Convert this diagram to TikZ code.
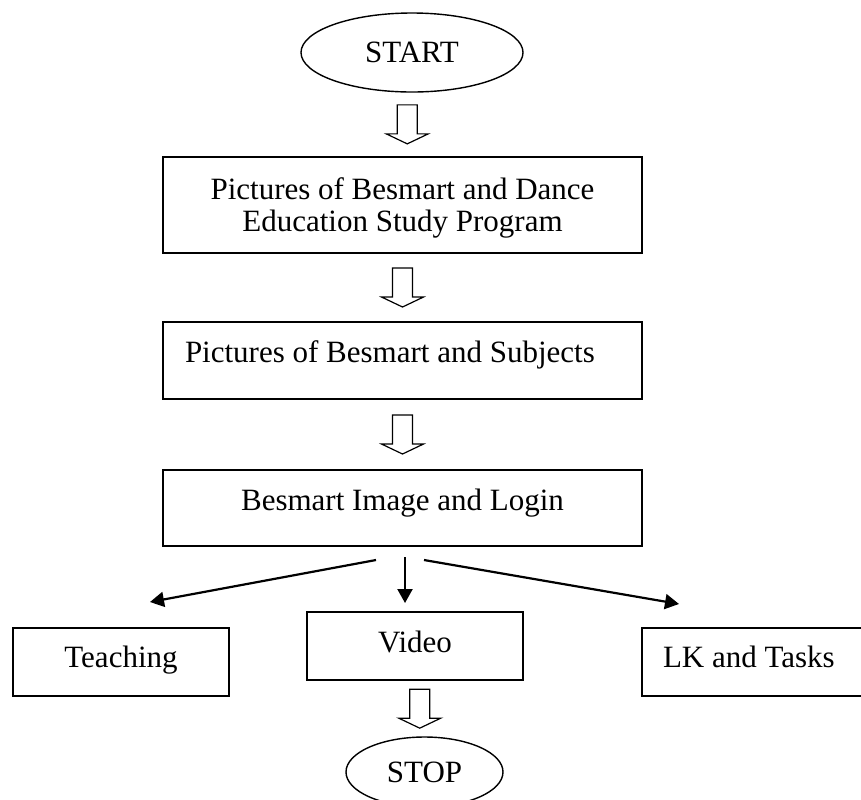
\documentclass[tikz,border=0pt]{standalone}
\usepackage{fontspec}
\setmainfont{Liberation Serif}
\usetikzlibrary{shapes.geometric, arrows.meta, calc}
\tikzset{
	box/.style={draw, line width=1pt, rectangle, inner sep=0pt, text height=13pt, text depth=3pt, align=center},
	oval/.style={draw, line width=0.7pt, ellipse, inner sep=0pt},
	link/.style={-{Triangle[length=7pt, width=7.5pt]}, line width=1.1pt},
	pics/hollow/.style={code={
		\draw[line width=0.6pt] (-10,-19.5) -- (10,-19.5) -- (10,9.5) -- (21,9.5) -- (0,19.5) -- (-21,9.5) -- (-10,9.5) -- cycle;
	}}
}
\begin{document}
\begin{tikzpicture}[x=0.5pt, y=-0.5pt, font=\fontsize{15.5pt}{16pt}\selectfont]
	\useasboundingbox (0,0) rectangle (861,799);
	\clip (0,0) rectangle (861,799);
	\node[oval, minimum width=111pt, minimum height=39.5pt] (start) at (412,52.5) {START};
	\node[box, minimum width=239.5pt, minimum height=48pt, text height=29pt, text depth=3pt] (pictures) at (402.5,205) {Pictures of Besmart and Dance\\Education Study Program};
	\node[box, text width=217.5pt, inner xsep=11pt, align=flush left, minimum height=38.5pt, text depth=11.5pt] (subjects) at (402.5,360.5) {Pictures of Besmart and Subjects};
	\node[box, minimum width=239.5pt, minimum height=38pt, text depth=11pt] (login) at (402.5,508) {Besmart Image and Login};
	\node[box, minimum width=108pt, minimum height=34pt, text depth=8pt] (teaching) at (121,662) {Teaching};
	\node[box, minimum width=108pt, minimum height=34pt, text depth=7pt] (video) at (415,646) {Video};
	\node[box, anchor=west, text width=93.5pt, inner xsep=10.5pt, align=flush left, minimum height=34pt, text depth=8pt] (tasks) at (641,662) {LK and Tasks};
	\node[oval, minimum width=78.5pt, minimum height=35pt] (stop) at (424.5,772) {STOP};
	% block arrows
	\pic at ($(start.south)!.5!(pictures.north)$) {hollow};
	\pic at ($(pictures.south)!.5!(subjects.north)$) {hollow};
	\pic at ($(subjects.south)!.5!(login.north)$) {hollow};
	\pic at ($(video.south)!.5!(stop.north)$) {hollow};
	% branches
	\draw[link] ($(login.south)+(-26.5,13)$) -- ($(teaching.north)+(29,-25)$);
	\draw[link] ($(login.south)+(2.5,10)$) -- ($(video.north)+(-10,-8)$);
	\draw[link] ($(login.south)+(21.5,13)$) -- ($(tasks.north west)+(38,-23)$);
\end{tikzpicture}
\end{document}
